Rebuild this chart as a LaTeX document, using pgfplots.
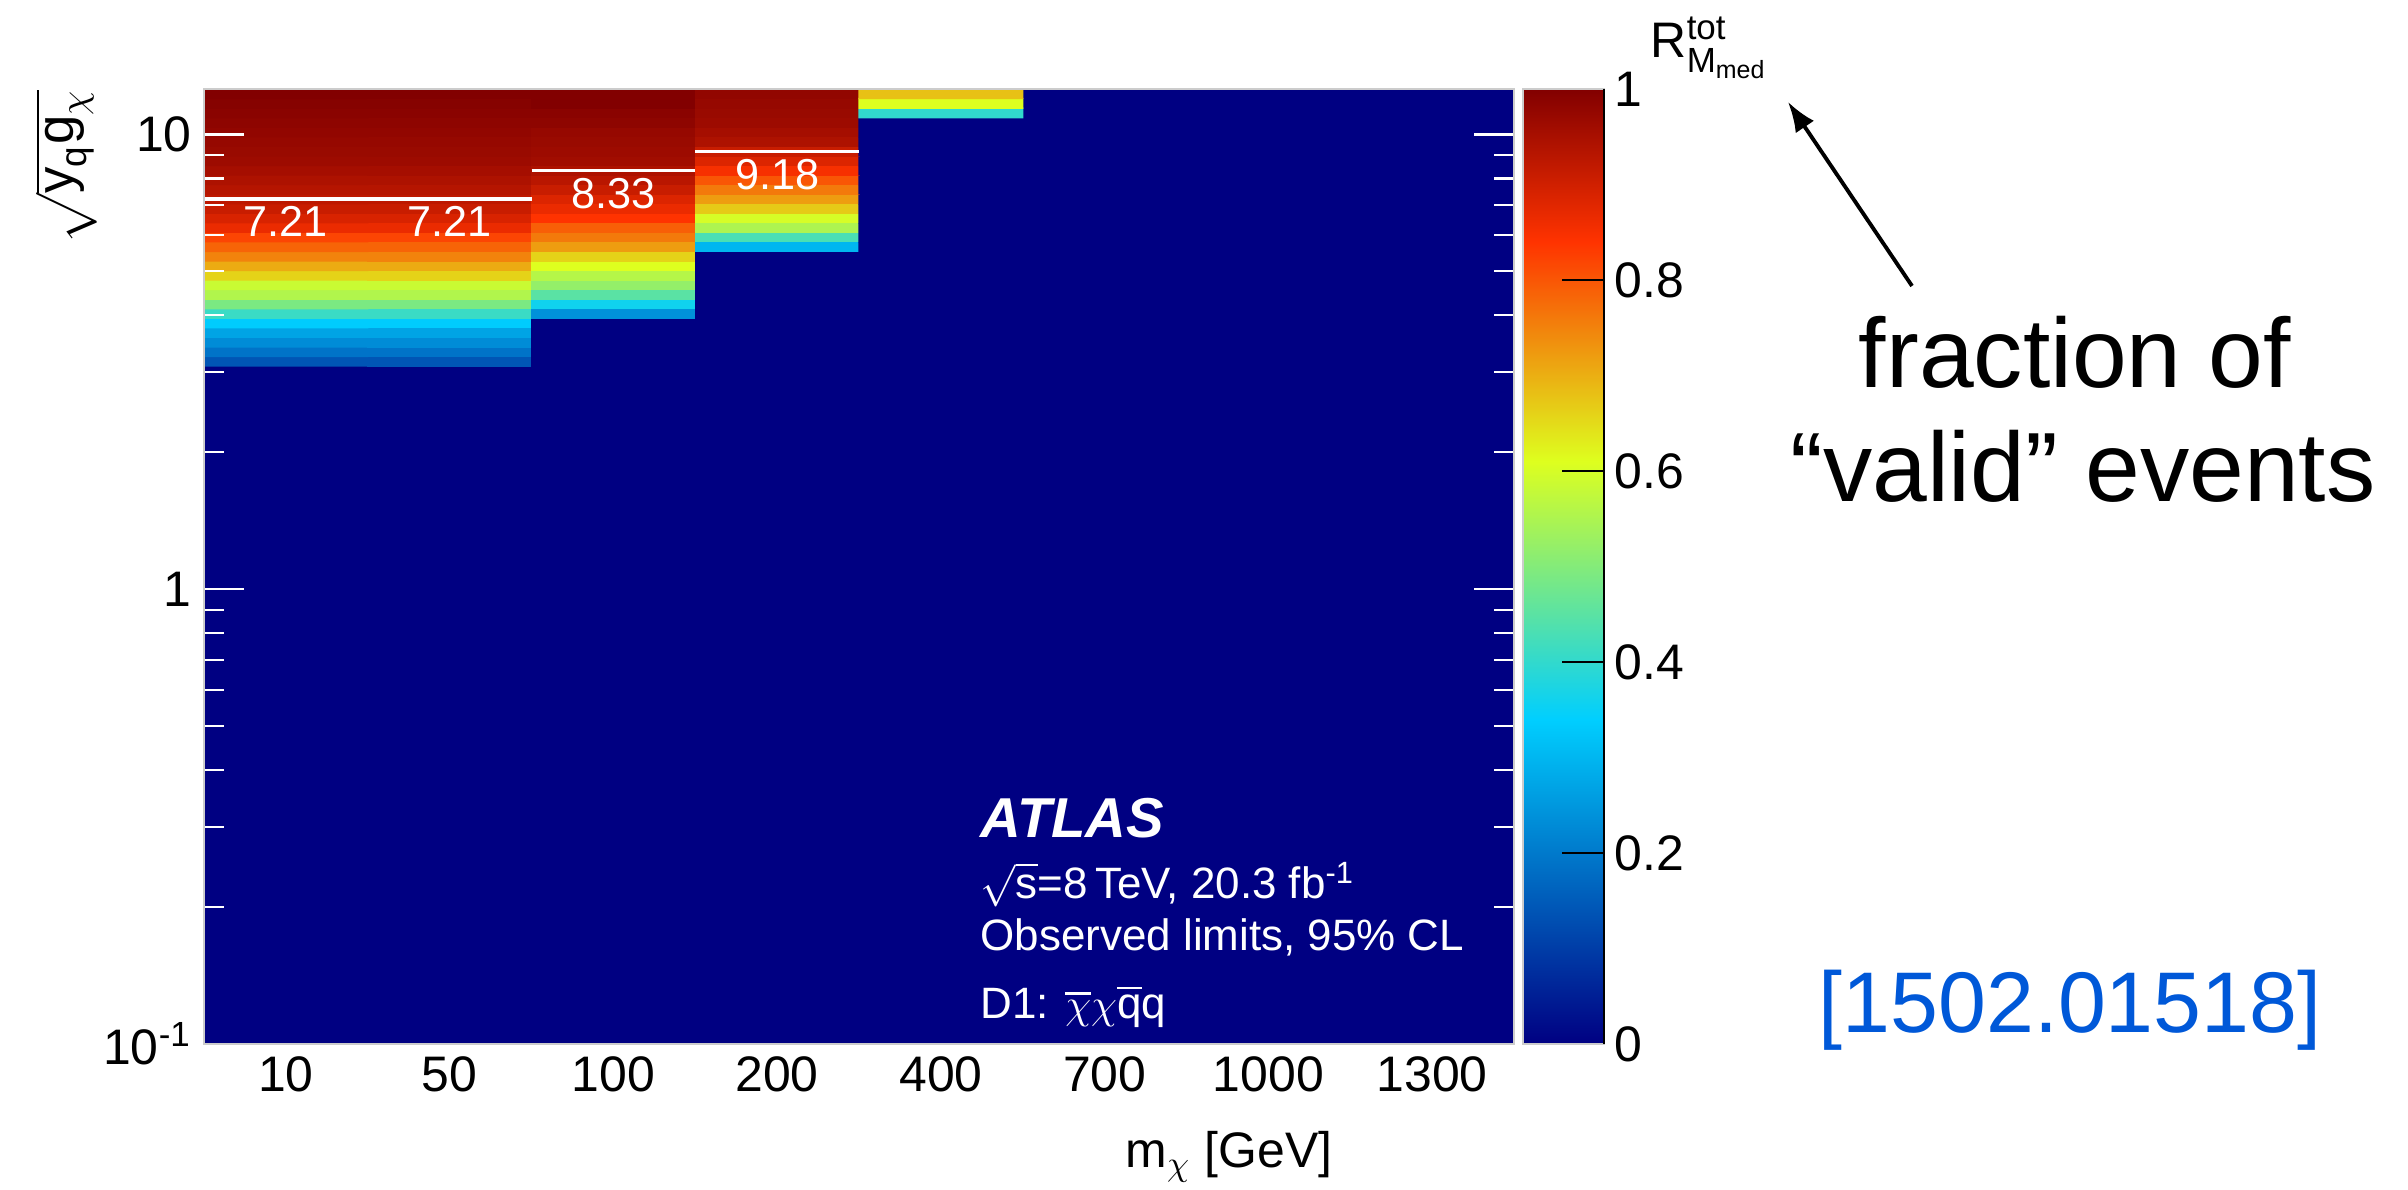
\documentclass[border=0pt]{standalone}
\usepackage{fontspec}
\setmainfont{Liberation Sans}
\usepackage{amsmath}
\usepackage{pgfplots}
\pgfplotsset{compat=1.18}
\usetikzlibrary{arrows.meta}
\definecolor{rootnavy}{rgb}{0,0,0.51}
\definecolor{arxivblue}{RGB}{0,88,216}
\newcommand{\tickfont}{\fontsize{14.2}{17}\selectfont}
\newcommand{\ovl}[1]{\leavevmode\vbox{\hrule height 0.06em\kern 0.14em\hbox{#1}}}

\begin{document}
\begin{tikzpicture}
\useasboundingbox (0,0) rectangle (24.08,11.90);
\begin{axis}[
  at={(2.04cm,1.46cm)}, anchor=south west,
  scale only axis, width=13.10cm, height=9.55cm,
  ymode=log,
  xmin=-0.5, xmax=7.5, ymin=0.1, ymax=12.589,
  enlargelimits=false,
  axis on top,
  axis background/.style={fill=rootnavy},
  axis line style={draw=gray!40, line width=0.4pt},
  xtick={0,1,2,3,4,5,6,7},
  xticklabels={10,50,100,200,400,700,1000,1300},
  ytick={0.1,1,10},
  yticklabels={10\textsuperscript{-1},1,10},
  minor ytick={0.2,0.3,0.4,0.5,0.6,0.7,0.8,0.9,2,3,4,5,6,7,8,9},
  tick style={white, line width=0.6pt},
  xtick style={draw=none},
  tick align=inside,
  major tick length=0.40cm, minor tick length=0.20cm,
  tick label style={font=\tickfont},
  /pgf/number format/assume math mode=true,
  colormap={rootpal}{rgb(0pt)=(0,0,0.51); rgb(34pt)=(0,0.81,1);
    rgb(61pt)=(0.87,1,0.12); rgb(84pt)=(1,0.2,0); rgb(100pt)=(0.51,0,0)},
  point meta min=0, point meta max=1,
  colorbar,
  colorbar/width=0.81cm,
  colorbar style={
    at={(parent axis.north east)}, anchor=north west, xshift=-0.21cm,
    width=0.81cm,
    ytick={0,0.2,0.4,0.6,0.8,1},
    ytick pos=right, yticklabel pos=right,
    tick align=inside,
    major tick length=0.42cm,
    tick style={black, line width=0.6pt},
    axis line style={draw=gray!40, line width=0.4pt},
    yticklabel style={font=\tickfont, xshift=-0.02cm},
    /pgf/number format/assume math mode=true,
    after end axis/.code={\draw[black, line width=0.6pt] (rel axis cs:1,0) -- (rel axis cs:1,1);},
  },
]
% cells: x = category index, y = bin centre (log bins of 0.021 decades), c = fraction
\addplot[matrix plot*, shader=flat corner, draw=none, mesh/cols=5, point meta=explicit]
  table[meta=c] {
x y c
0 3.174 0.14
1 3.174 0.14
2 3.174 0
3 3.174 0
4 3.174 0
0 3.331 0.19
1 3.331 0.19
2 3.331 0
3 3.331 0
4 3.331 0
0 3.496 0.23
1 3.496 0.23
2 3.496 0
3 3.496 0
4 3.496 0
0 3.669 0.27
1 3.669 0.27
2 3.669 0
3 3.669 0
4 3.669 0
0 3.851 0.335
1 3.851 0.335
2 3.851 0
3 3.851 0
4 3.851 0
0 4.042 0.41
1 4.042 0.41
2 4.042 0.24
3 4.042 0
4 4.042 0
0 4.242 0.49
1 4.242 0.49
2 4.242 0.36
3 4.242 0
4 4.242 0
0 4.452 0.555
1 4.452 0.555
2 4.452 0.45
3 4.452 0
4 4.452 0
0 4.672 0.585
1 4.672 0.585
2 4.672 0.52
3 4.672 0
4 4.672 0
0 4.904 0.66
1 4.904 0.66
2 4.904 0.56
3 4.904 0
4 4.904 0
0 5.147 0.705
1 5.147 0.705
2 5.147 0.61
3 5.147 0
4 5.147 0
0 5.402 0.75
1 5.402 0.75
2 5.402 0.66
3 5.402 0
4 5.402 0
0 5.669 0.785
1 5.669 0.785
2 5.669 0.72
3 5.669 0.30
4 5.669 0
0 5.950 0.82
1 5.950 0.82
2 5.950 0.76
3 5.950 0.43
4 5.950 0
0 6.245 0.865
1 6.245 0.865
2 6.245 0.79
3 6.245 0.55
4 6.245 0
0 6.554 0.89
1 6.554 0.89
2 6.554 0.84
3 6.554 0.60
4 6.554 0
0 6.879 0.91
1 6.879 0.91
2 6.879 0.865
3 6.879 0.67
4 6.879 0
0 7.220 0.925
1 7.220 0.925
2 7.220 0.885
3 7.220 0.72
4 7.220 0
0 7.577 0.935
1 7.577 0.935
2 7.577 0.91
3 7.577 0.76
4 7.577 0
0 7.953 0.945
1 7.953 0.945
2 7.953 0.93
3 7.953 0.80
4 7.953 0
0 8.347 0.955
1 8.347 0.955
2 8.347 0.945
3 8.347 0.85
4 8.347 0
0 8.760 0.965
1 8.760 0.965
2 8.760 0.96
3 8.760 0.885
4 8.760 0
0 9.194 0.97
1 9.194 0.97
2 9.194 0.965
3 9.194 0.91
4 9.194 0
0 9.649 0.975
1 9.649 0.975
2 9.649 0.97
3 9.649 0.945
4 9.649 0
0 10.127 0.98
1 10.127 0.98
2 10.127 0.975
3 10.127 0.955
4 10.127 0
0 10.629 0.985
1 10.629 0.985
2 10.629 0.985
3 10.629 0.965
4 10.629 0
0 11.155 0.99
1 11.155 0.99
2 11.155 0.99
3 11.155 0.97
4 11.155 0.40
0 11.708 0.995
1 11.708 0.995
2 11.708 1.00
3 11.708 0.975
4 11.708 0.61
0 12.291 1.00
1 12.291 1.00
2 12.291 1.00
3 12.291 0.98
4 12.291 0.68
};
% observed limits
\addplot[white, line width=1pt] coordinates {(-0.5,7.21) (1.5,7.21)};
\addplot[white, line width=1pt] coordinates {(1.5,8.33) (2.5,8.33)};
\addplot[white, line width=1pt] coordinates {(2.5,9.18) (3.5,9.18)};
\node[white, anchor=north, inner sep=0, yshift=-0.07cm, font=\fontsize{12.3}{14}\selectfont] at (axis cs:0,7.21) {7.21};
\node[white, anchor=north, inner sep=0, yshift=-0.07cm, font=\fontsize{12.3}{14}\selectfont] at (axis cs:1,7.21) {7.21};
\node[white, anchor=north, inner sep=0, yshift=-0.07cm, font=\fontsize{12.3}{14}\selectfont] at (axis cs:2,8.33) {8.33};
\node[white, anchor=north, inner sep=0, yshift=-0.07cm, font=\fontsize{12.3}{14}\selectfont] at (axis cs:3,9.18) {9.18};
\end{axis}

% axis titles
\node[rotate=90, anchor=east, inner sep=0, font=\fontsize{15}{18}\selectfont] at (0.66,11.01) {$\sqrt{\text{y}_{\text{q}}\text{g}_{\chi}}$};
\node[anchor=base east, font=\tickfont, inner sep=0] at (13.33,0.22) {m$_{\chi}$ [GeV]};
\node[anchor=base west, font=\tickfont, inner sep=0] at (16.50,11.32) {R$^{\text{tot}}_{\text{M}_{\text{med}}}$};

% ATLAS label
\node[anchor=base west, white, inner sep=0, font=\fontsize{16}{19}\selectfont\bfseries\itshape] at (9.80,3.52) {ATLAS};
\node[anchor=base west, white, inner sep=0, font=\fontsize{12.5}{15}\selectfont] at (9.80,2.91) {$\sqrt{\text{s}}$=8\,TeV, 20.3 fb\textsuperscript{-1}};
\node[anchor=base west, white, inner sep=0, font=\fontsize{12.5}{15}\selectfont] at (9.80,2.39) {Observed limits, 95\% CL};
\node[anchor=base west, white, inner sep=0, font=\fontsize{12.5}{15}\selectfont] at (9.80,1.71) {D1: \ovl{$\chi$}$\chi$\ovl{q}q};

% annotation
\draw[-{Latex[length=0.30cm,width=0.22cm]}, line width=1.1pt] (19.12,9.04) -- (17.88,10.88);
\node[anchor=base, inner sep=0, font=\fontsize{28}{33}\selectfont] at (20.75,8.02) {fraction of};
\node[anchor=base, inner sep=0, font=\fontsize{28}{33}\selectfont] at (20.83,6.88) {“valid” events};
\node[anchor=base, inner sep=0, arxivblue, font=\fontsize{24.5}{29}\selectfont] at (20.70,1.57) {[1502.01518]};
\end{tikzpicture}
\end{document}
